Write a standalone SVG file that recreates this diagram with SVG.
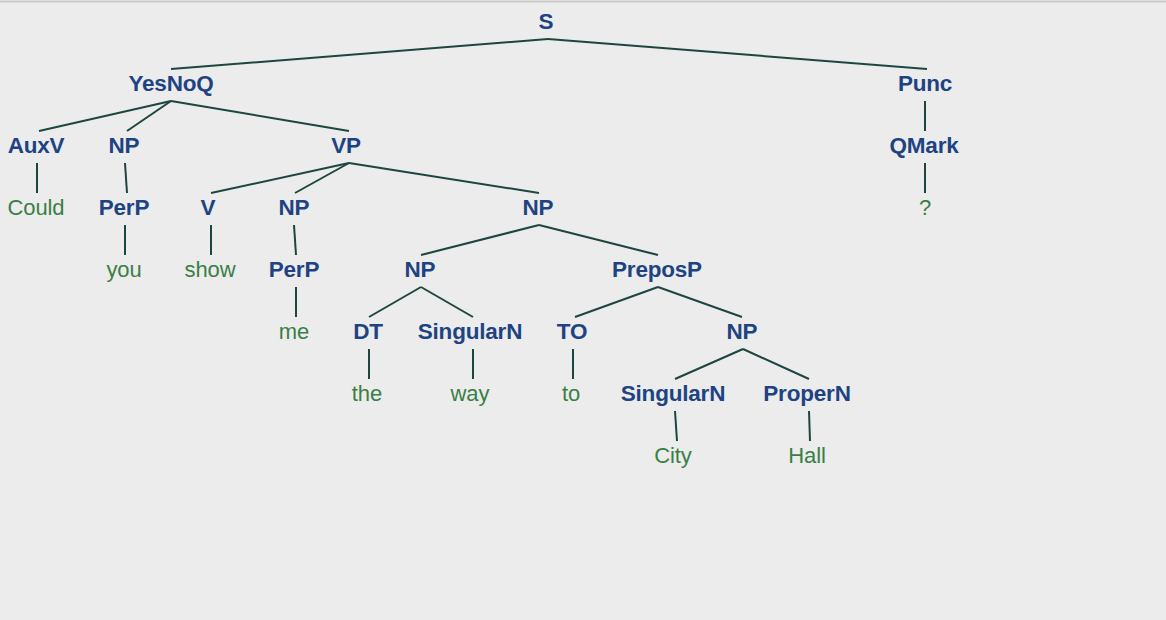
<svg xmlns="http://www.w3.org/2000/svg" width="1166" height="620" viewBox="0 0 1166 620">
<style>
.cat{font-family:"Liberation Sans",Arial,sans-serif;font-size:22.5px;font-weight:bold;fill:#1e4382;text-anchor:middle;letter-spacing:-0.2px}
.word{font-family:"Liberation Sans",Arial,sans-serif;font-size:22px;fill:#3a7f45;text-anchor:middle;letter-spacing:-0.1px}
#connectors line{stroke:#1d4640;stroke-width:2;fill:none}
</style>
<rect x="0" y="0" width="1166" height="620" fill="#ececec"/>
<line x1="0" y1="1.5" x2="1166" y2="1.5" stroke="#c9c9c9" stroke-width="2"/>
<g id="connectors">
<line x1="548" y1="39" x2="171" y2="69"/>
<line x1="548" y1="39" x2="927" y2="69"/>
<line x1="171" y1="101" x2="39" y2="131"/>
<line x1="171" y1="101" x2="127" y2="131"/>
<line x1="171" y1="101" x2="349" y2="131"/>
<line x1="925" y1="101" x2="925" y2="131"/>
<line x1="925" y1="163" x2="925" y2="193"/>
<line x1="37" y1="163" x2="37" y2="193"/>
<line x1="125" y1="163" x2="127" y2="193"/>
<line x1="349" y1="163" x2="211" y2="193"/>
<line x1="349" y1="163" x2="295" y2="193"/>
<line x1="349" y1="163" x2="539" y2="193"/>
<line x1="125" y1="225" x2="125" y2="255"/>
<line x1="211" y1="225" x2="211" y2="255"/>
<line x1="294" y1="225" x2="296" y2="255"/>
<line x1="539" y1="225" x2="421" y2="255"/>
<line x1="539" y1="225" x2="658" y2="255"/>
<line x1="296" y1="287" x2="296" y2="317"/>
<line x1="421" y1="287" x2="369" y2="317"/>
<line x1="421" y1="287" x2="473" y2="317"/>
<line x1="658" y1="287" x2="575" y2="317"/>
<line x1="658" y1="287" x2="742" y2="317"/>
<line x1="369" y1="349" x2="369" y2="379"/>
<line x1="473" y1="349" x2="473" y2="379"/>
<line x1="573" y1="349" x2="573" y2="379"/>
<line x1="743" y1="349" x2="675" y2="379"/>
<line x1="743" y1="349" x2="809" y2="379"/>
<line x1="675" y1="411" x2="677" y2="441"/>
<line x1="809" y1="411" x2="810" y2="441"/>
</g>
<g id="n-S"><text class="cat" x="546" y="29">S</text></g>
<g id="n-YesNoQ"><text class="cat" x="171" y="91">YesNoQ</text></g>
<g id="n-Punc"><text class="cat" x="925" y="91">Punc</text></g>
<g id="n-AuxV"><text class="cat" x="36" y="153">AuxV</text></g>
<g id="n-NP1"><text class="cat" x="124" y="153">NP</text></g>
<g id="n-VP"><text class="cat" x="346" y="153">VP</text></g>
<g id="n-QMark"><text class="cat" x="924" y="153">QMark</text></g>
<g id="n-Could"><text class="word" x="36" y="215">Could</text></g>
<g id="n-PerP1"><text class="cat" x="124" y="215">PerP</text></g>
<g id="n-V"><text class="cat" x="208" y="215">V</text></g>
<g id="n-NP2"><text class="cat" x="294" y="215">NP</text></g>
<g id="n-NP3"><text class="cat" x="538" y="215">NP</text></g>
<g id="n-q"><text class="word" x="925" y="215">?</text></g>
<g id="n-you"><text class="word" x="124" y="277">you</text></g>
<g id="n-show"><text class="word" x="210" y="277">show</text></g>
<g id="n-PerP2"><text class="cat" x="294" y="277">PerP</text></g>
<g id="n-NP4"><text class="cat" x="420" y="277">NP</text></g>
<g id="n-PreposP"><text class="cat" x="657" y="277">PreposP</text></g>
<g id="n-me"><text class="word" x="294" y="339">me</text></g>
<g id="n-DT"><text class="cat" x="368" y="339">DT</text></g>
<g id="n-SingularN1"><text class="cat" x="470" y="339">SingularN</text></g>
<g id="n-TO"><text class="cat" x="572" y="339">TO</text></g>
<g id="n-NP5"><text class="cat" x="742" y="339">NP</text></g>
<g id="n-the"><text class="word" x="367" y="401">the</text></g>
<g id="n-way"><text class="word" x="470" y="401">way</text></g>
<g id="n-to"><text class="word" x="571" y="401">to</text></g>
<g id="n-SingularN2"><text class="cat" x="673" y="401">SingularN</text></g>
<g id="n-ProperN"><text class="cat" x="807" y="401">ProperN</text></g>
<g id="n-City"><text class="word" x="673" y="463">City</text></g>
<g id="n-Hall"><text class="word" x="807" y="463">Hall</text></g>
</svg>
